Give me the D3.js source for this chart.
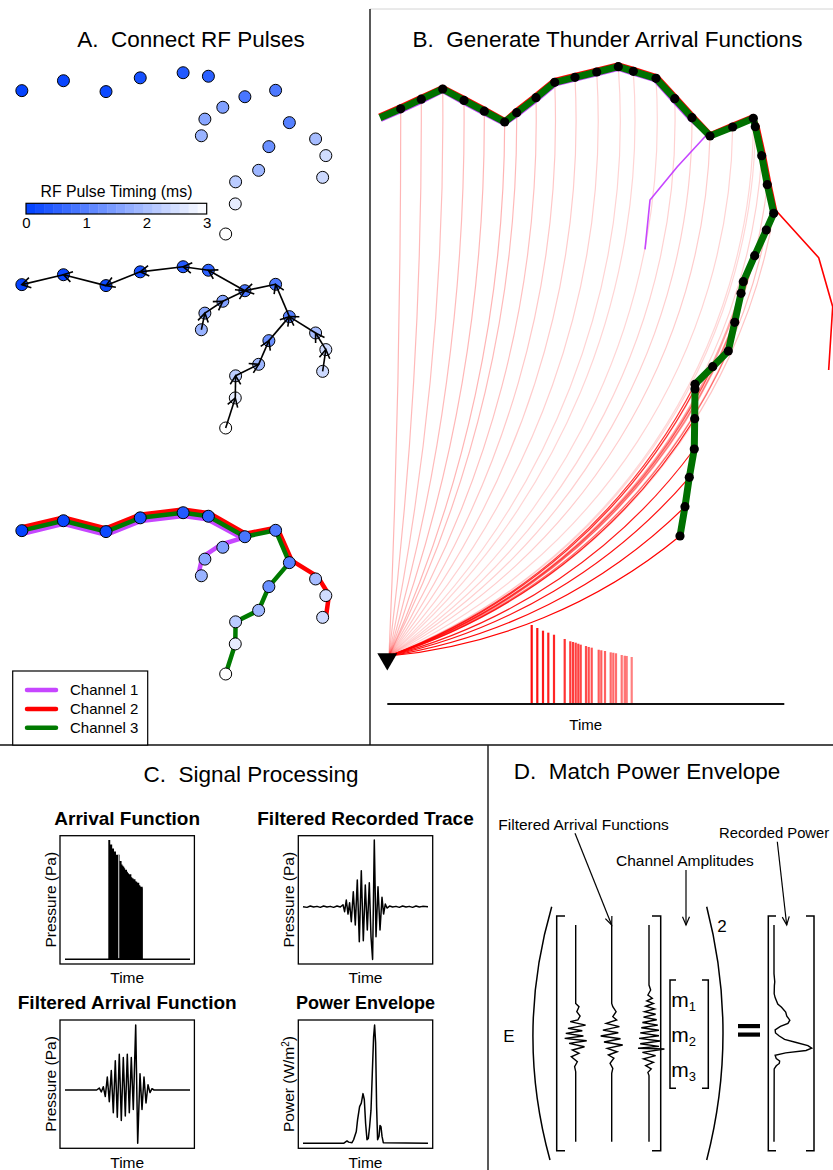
<!DOCTYPE html>
<html>
<head>
<meta charset="utf-8">
<script src="https://cdn.jsdelivr.net/npm/d3@7"></script>
<style>
  body { margin: 0; background: #fff; }
  svg { display: block; font-family: "Liberation Sans", Arial, Helvetica, sans-serif; }
  text { white-space: pre; }
</style>
</head>
<body>
<svg id="fig" width="833" height="1170"></svg>
<script>
// ---------------- Panel A: RF pulse sources (km east / km up) ----------------
const pulseEast = [0.37,1.67,3.00,4.07,5.41,6.20,7.34,8.30,6.65,6.09,5.98,8.73,8.09,7.77,7.05,7.04,6.74,9.55,9.87,9.77];
const pulseUp   = [4.98,5.29,4.95,5.38,5.54,5.43,4.79,4.99,4.46,4.09,3.57,3.98,3.23,2.49,2.13,1.44,0.50,3.47,2.95,2.27];
const pulseTime = [0.05,0.10,0.15,0.25,0.40,0.50,0.85,0.90,1.50,1.60,1.80,1.00,1.25,1.85,2.20,2.70,3.00,1.95,2.45,2.40];
const pulseParent = [-1,0,1,2,3,4,5,6,6,8,9,7,11,12,13,14,15,11,17,18];
const channel1 = [0,1,2,3,4,5,6,8,9,10];
const channel2 = [0,1,2,3,4,5,6,7,11,17,18,19];
const channel3 = [0,1,2,3,4,5,6,7,11,12,13,14,15,16];
const colorbarTicks = [0,1,2,3];
const channelNames = ["Channel 1","Channel 2","Channel 3"];

// ---------------- Panel B: channel geometry (km east of station / km up) ----------------
const chanEast = [-0.15,0.195,0.538,0.895,1.25,1.588,1.928,2.128,2.45,2.762,3.1,3.462,3.822,4.072,4.45,4.762,5.05,5.35,5.728,6.072,6.105,6.212,6.305,6.412,6.288,6.095,5.905,5.867,5.762,5.655,5.395,5.1,5.1,5.095,5.088,5.005,4.933,4.85];
const chanUp   = [8.97,9.12,9.28,9.45,9.26,9.08,8.9,9.055,9.305,9.562,9.645,9.733,9.822,9.745,9.628,9.288,8.972,8.667,8.817,8.962,8.822,8.338,7.855,7.378,7.1,6.672,6.238,6.045,5.562,5.083,4.822,4.528,4.45,3.955,3.45,2.978,2.488,2.0];
const purpleBranchEast = [4.805,4.35,4.267];
const purpleBranchUp   = [8.155,7.6,6.778];
const redBranchEast = [7.162,7.395,7.328];
const redBranchUp   = [6.638,5.822,4.767];
const purpleSplit = 17, redSplit = 23;
const rayCenterUp = 8.93;          // altitude of the ray-circle centre line (km)

// arrival spikes (relative time, relative amplitude)
const arrivalT   = [0,5.6,11.3,16.6,22.3,33,38.6,41.3,44,46.6,49,54.3,57,60,67,69.6,73.3,79,81.6,84.3,90,93,95,100];
const arrivalAmp = [1,.962,.928,.903,.877,.823,.794,.785,.776,.763,.751,.734,.722,.713,.687,.680,.671,.654,.649,.642,.620,.611,.608,.595];

// ---------------- Panel C: processed signals ----------------
const filtT = [0,31.7,34.3,36.3,38.3,40.3,42.3,44.3,46.3,48.3,50.3,52.3,54.3,56.3,58.3,60.3,62.3,64.3,66.3,68.3,70.7,72.7,75,77,79,81,83,85,87,89,125];
const filtP = [0,0,0.03,-0.03,0.05,-0.1,0.2,-0.18,0.3,-0.35,0.45,-0.42,0.55,-0.47,0.5,-0.4,0.55,-0.35,0.5,-0.3,1.0,-0.82,0.25,-0.3,0.2,-0.2,0.08,-0.04,0.02,0,0];

const recT = [0,4,7.3,10.6,14,17.3,20.6,24,27.3,30.6,34,37.3,40,41.6,43.3,45,46.6,48.3,50.3,52.3,54.3,56.3,58.3,60.3,62.3,64.3,66.3,68,69.6,71.3,73,75,77,79,80.6,82.3,84,86.6,89.6,93,96.3,99.6,103,106.3,109.6,113,116.3,119.6,125];
const recP = [0,-0.01,0.01,-0.005,0.005,-0.01,0.01,-0.005,0.005,-0.01,0.01,-0.005,0.03,-0.075,0.1,-0.11,0.06,-0.225,0.225,-0.275,0.4,-0.525,0.54,-0.51,0.325,-0.35,0.36,-0.45,-0.79,1.0,-0.45,0.3,-0.35,0.14,-0.11,0.04,-0.02,0.01,-0.005,0.005,-0.01,0.01,-0.005,0.005,-0.01,0.01,-0.005,0.005,0];

const powerT = [0,40.6,42.3,44,45.6,49,50.6,53.3,54.6,56.6,58.3,60,61.3,62.6,64,65.3,66.6,68,69.3,70.6,71.6,72.6,73.6,74.6,76,77,78,79,80.3,125];
const powerP = [0,0,0.01,0.02,0.01,0.005,0.03,0.1,0.2,0.31,0.34,0.42,0.37,0.17,0.03,0.04,0.14,0.28,0.59,0.9,1.0,0.85,0.31,0.03,0.06,0.15,0.14,0.06,0.005,0];

// ---------------- Panel D: per-channel filtered arrivals (vertical time) ----------------
const dTrace1T = [0,36.2,37.7,40,42,43.8,44.6,46.2,47.7,48.8,50,51.2,52.3,53.4,54.6,56.2,57.7,59.2,60.8,63.1,65.4,67.7,100];
const dTrace1P = [0,0,0.3,0.1,0.4,0.2,-0.5,0.9,-0.7,0.6,-0.9,0.7,-1.0,1.0,-0.6,0.8,-0.3,0.3,-0.4,0.15,-0.1,0,0];
const dTrace2T = [0,36.2,37.7,40,42.3,43.8,45.4,46.9,48.5,49.7,51.2,52.5,54,55.4,56.9,58.5,60,61.5,63.8,66.2,68.5,100];
const dTrace2P = [0,0,0.1,0.4,0.1,0.45,-0.5,0.7,-0.8,0.6,-1.0,0.8,-0.7,1.0,-0.4,0.5,-0.3,0.2,-0.15,0.1,0,0];
const dTrace3T = [0,27.7,30,32.3,33.8,35,36.2,37.5,38.7,40,41.2,42.5,43.7,45,46.2,47.4,48.6,49.8,51.1,52.3,53.5,54.8,56,56.9,57.2,58.8,60.3,61.8,63.4,64.9,66.4,68,69.5,100];
const dTrace3P = [0,0,0.15,-0.1,0.3,-0.2,0.4,-0.3,0.5,-0.4,0.6,-0.5,0.7,-0.6,0.8,-0.7,0.9,-0.8,0.9,-0.9,1.0,-0.8,0.9,-1.0,1.4,-0.6,0.6,-0.5,0.4,-0.3,0.2,-0.1,0,0];

// =====================================================================
const svg = d3.select("#fig");

function txt(g, x, y, s, size, opts = {}) {
  return g.append("text").attr("x", x).attr("y", y).text(s)
    .attr("font-size", size)
    .attr("text-anchor", opts.anchor || "middle")
    .attr("font-weight", opts.weight || "normal")
    .attr("fill", "#000");
}

// frame lines
svg.append("line").attr("x1", 370).attr("y1", 9).attr("x2", 833).attr("y2", 9).attr("stroke", "#d4d4d4").attr("stroke-width", 1);
svg.append("line").attr("x1", 370).attr("y1", 9).attr("x2", 370).attr("y2", 745).attr("stroke", "#222").attr("stroke-width", 1.5);
svg.append("line").attr("x1", 0).attr("y1", 745).attr("x2", 833).attr("y2", 745).attr("stroke", "#111").attr("stroke-width", 1.5);
svg.append("line").attr("x1", 488).attr("y1", 745).attr("x2", 488).attr("y2", 1170).attr("stroke", "#222").attr("stroke-width", 1.5);

// panel titles
txt(svg, 191, 47, "A.  Connect RF Pulses", 22.5);
txt(svg, 607.5, 47, "B.  Generate Thunder Arrival Functions", 22.5);
txt(svg, 251, 782, "C.  Signal Processing", 22.5);
txt(svg, 647, 779, "D.  Match Power Envelope", 22.5);

// offset a polyline sideways (positive = left of travel direction)
function offsetLine(pts, d) {
  return pts.map((p, i) => {
    const a = pts[Math.max(i - 1, 0)], b = pts[Math.min(i + 1, pts.length - 1)];
    const dx = b[0] - a[0], dy = b[1] - a[1];
    const L = Math.hypot(dx, dy) || 1;
    return [p[0] + d * dy / L, p[1] - d * dx / L];
  });
}
const lineGen = d3.line();

// ---------------- Panel A ----------------
const xA = d3.scaleLinear().domain([0, 10]).range([10, 330]);
const yA = d3.scaleLinear().domain([0, 5]).range([250, 90]);
const timeColor = d3.scaleLinear().domain([0, 3]).range(["#0040ff", "#ffffff"]).interpolate(d3.interpolateRgb);
const pulses = pulseEast.map((e, i) => ({ i, x: xA(e), y: yA(pulseUp[i]), t: pulseTime[i], parent: pulseParent[i] }));
const chColor = ["#c646ff", "#ff0000", "#007a00"];

function drawPulses(g) {
  g.selectAll("circle.pulse").data(pulses).join("circle").attr("class", "pulse")
    .attr("cx", d => d.x).attr("cy", d => d.y).attr("r", 6)
    .attr("fill", d => timeColor(d.t)).attr("stroke", "#000").attr("stroke-width", 1);
}

// A1: pulse locations coloured by time
const gA1 = svg.append("g");
drawPulses(gA1);
const cbX = d3.scaleLinear().domain([0, 3]).range([26, 206.7]);
const nSteps = 20;
const stepVals = d3.range(nSteps).map(k => 3 * k / nSteps);
gA1.selectAll("rect.cb").data(stepVals).join("rect").attr("class", "cb")
  .attr("x", d => cbX(d)).attr("y", 203.3).attr("width", cbX(3 / nSteps) - cbX(0) + 0.4).attr("height", 10.7)
  .attr("fill", d => timeColor(d + 1.5 / nSteps));
gA1.append("rect").attr("x", cbX(0)).attr("y", 203.3).attr("width", cbX(3) - cbX(0)).attr("height", 10.7)
  .attr("fill", "none").attr("stroke", "#000").attr("stroke-width", 1.2);
const cbAxis = gA1.append("g").attr("transform", "translate(0,214)")
  .call(d3.axisBottom(cbX).tickValues(colorbarTicks).tickFormat(d3.format("d")).tickSize(0).tickPadding(3));
cbAxis.select(".domain").remove();
cbAxis.selectAll("text").attr("font-size", 15).attr("font-family", "Liberation Sans, Arial, sans-serif").attr("fill", "#000");
txt(gA1, 116.5, 197, "RF Pulse Timing (ms)", 15.8);

// A2: connection tree with arrows pointing back toward earlier pulses
const gA2 = svg.append("g").attr("transform", "translate(0,194)");
drawPulses(gA2);
const edges = pulses.filter(d => d.parent >= 0).map(d => ({ s: d, t: pulses[d.parent] }));
gA2.selectAll("line.edge").data(edges).join("line").attr("class", "edge")
  .attr("x1", d => d.s.x).attr("y1", d => d.s.y).attr("x2", d => d.t.x).attr("y2", d => d.t.y)
  .attr("stroke", "#000").attr("stroke-width", 1.6);
gA2.selectAll("path.head").data(edges).join("path").attr("class", "head")
  .attr("d", d => {
    const ang = Math.atan2(d.s.y - d.t.y, d.s.x - d.t.x), L = 10, w = 0.55;
    const tx = d.t.x, ty = d.t.y;
    return `M${tx + L * Math.cos(ang + w)},${ty + L * Math.sin(ang + w)}L${tx},${ty}L${tx + L * Math.cos(ang - w)},${ty + L * Math.sin(ang - w)}`;
  })
  .attr("fill", "none").attr("stroke", "#000").attr("stroke-width", 1.6);

// A3: channels
const gA3 = svg.append("g").attr("transform", "translate(0,440)");
const chPts = ch => ch.map(k => [pulses[k].x, pulses[k].y]);
[[channel1, -3.2, 0], [channel2, 3.2, 1], [channel3, 0, 2]].forEach(([ch, off, ci]) => {
  gA3.append("path").attr("d", lineGen(offsetLine(chPts(ch), off)))
    .attr("fill", "none").attr("stroke", chColor[ci]).attr("stroke-width", 4.5)
    .attr("stroke-linejoin", "round").attr("stroke-linecap", "round");
});
drawPulses(gA3);

// legend
const gLeg = svg.append("g");
gLeg.append("rect").attr("x", 12.7).attr("y", 671).attr("width", 135).attr("height", 74)
  .attr("fill", "#fff").attr("stroke", "#000").attr("stroke-width", 1.2);
channelNames.forEach((nm, i) => {
  const y = 690 + i * 18.9;
  gLeg.append("line").attr("x1", 27).attr("x2", 56).attr("y1", y).attr("y2", y)
    .attr("stroke", chColor[i]).attr("stroke-width", 4.5).attr("stroke-linecap", "round");
  txt(gLeg, 70, y + 5.3, nm, 15, { anchor: "start" });
});

// ---------------- Panel B ----------------
const xB = d3.scaleLinear().domain([0, 1]).range([389, 449]);
const yB = d3.scaleLinear().domain([0, 1]).range([656, 596]);
const gB = svg.append("g");
const chanPts = chanEast.map((e, i) => [xB(e), yB(chanUp[i])]);
const station = [xB(0), yB(0)];
const yc = yB(rayCenterUp);

function rayPath(P) {
  const S = station, dx = P[0] - S[0], dy = P[1] - S[1];
  if (Math.abs(dx) < 1) return `M${S[0]},${S[1]}L${P[0]},${P[1]}`;
  const mx = (S[0] + P[0]) / 2, my = (S[1] + P[1]) / 2;
  const cx = mx - (yc - my) * dy / dx;
  const r = Math.hypot(S[0] - cx, S[1] - yc);
  const sweep = dx > 0 ? 0 : 1;
  return `M${S[0]},${S[1]}A${r},${r} 0 0 ${sweep} ${P[0]},${P[1]}`;
}
const rayOpacity = d3.scaleLinear().domain([314, 400, 470, 640]).range([1, 0.85, 0.4, 0.16]).clamp(true);
const dots = chanPts.slice(1);
gB.selectAll("path.ray").data(dots).join("path").attr("class", "ray")
  .attr("d", rayPath).attr("fill", "none").attr("stroke", "#ff0000").attr("stroke-width", 1.2)
  .attr("stroke-opacity", d => rayOpacity(Math.hypot(d[0] - station[0], d[1] - station[1])));

const redPts = chanPts.slice(0, redSplit + 1).concat(redBranchEast.map((e, i) => [xB(e), yB(redBranchUp[i])]));
const purplePts = chanPts.slice(0, purpleSplit + 1).concat(purpleBranchEast.map((e, i) => [xB(e), yB(purpleBranchUp[i])]));
const redOff = offsetLine(redPts, 3.6);
for (let k = redSplit + 1; k < redOff.length; k++) redOff[k] = redPts[k];
const purOff = offsetLine(purplePts, -3.6);
for (let k = purpleSplit + 1; k < purOff.length; k++) purOff[k] = purplePts[k];
gB.append("path").attr("d", lineGen(purOff)).attr("fill", "none").attr("stroke", "#c646ff").attr("stroke-width", 1.6).attr("stroke-linejoin", "round");
gB.append("path").attr("d", lineGen(redOff)).attr("fill", "none").attr("stroke", "#ff0000").attr("stroke-width", 1.6).attr("stroke-linejoin", "round");
gB.append("path").attr("d", lineGen(chanPts)).attr("fill", "none").attr("stroke", "#007000").attr("stroke-width", 7).attr("stroke-linejoin", "round");
gB.selectAll("circle.dot").data(dots).join("circle").attr("class", "dot")
  .attr("cx", d => d[0]).attr("cy", d => d[1]).attr("r", 4.6).attr("fill", "#000");

// station marker
gB.append("path").attr("d", d3.symbol(d3.symbolTriangle).size(173)())
  .attr("transform", `translate(${station[0] - 1.7},${station[1] + 3}) rotate(180)`).attr("fill", "#000");

// arrival time axis and spikes
const tB = d3.scaleLinear().domain([-144.4, 252.6]).range([387.3, 784.3]);
const aB = d3.scaleLinear().domain([0, 1]).range([704, 625]);
const spikeOpacity = d3.scaleLinear().domain([0, 100]).range([0.95, 0.5]);
gB.selectAll("rect.spike").data(arrivalT).join("rect").attr("class", "spike")
  .attr("x", d => tB(d) - 1.1).attr("width", 2.2)
  .attr("y", (d, i) => aB(arrivalAmp[i])).attr("height", (d, i) => aB(0) - aB(arrivalAmp[i]))
  .attr("fill", "#ff0000").attr("fill-opacity", d => spikeOpacity(d));
gB.append("line").attr("x1", tB.range()[0]).attr("x2", tB.range()[1]).attr("y1", 704).attr("y2", 704)
  .attr("stroke", "#111").attr("stroke-width", 2);
txt(gB, 585.7, 730, "Time", 15);

// ---------------- Panel C ----------------
const gC = svg.append("g");
function panelBox(x0, y0, title, tsize, ylab, sup) {
  gC.append("rect").attr("x", x0).attr("y", y0).attr("width", 134.4).attr("height", 128.3)
    .attr("fill", "none").attr("stroke", "#000").attr("stroke-width", 1.3);
  txt(gC, x0 + 67.2, y0 - 11, title, tsize, { weight: "bold" });
  txt(gC, x0 + 67.2, y0 + 147.5, "Time", 15.5);
  const t = gC.append("text").attr("transform", `translate(${x0 - 4},${y0 + 64}) rotate(-90)`)
    .attr("text-anchor", "middle").attr("font-size", 15.5).text(ylab);
  if (sup) {
    t.append("tspan").attr("baseline-shift", "super").attr("font-size", 10).text("2");
    t.append("tspan").text(")");
  }
}
panelBox(60, 835.7, "Arrival Function", 19, "Pressure (Pa)");
panelBox(60, 1020, "Filtered Arrival Function", 19, "Pressure (Pa)");
panelBox(298.3, 835.7, "Filtered Recorded Trace", 19, "Pressure (Pa)");
panelBox(298.3, 1020, "Power Envelope", 18, "Power (W/m", true);

// C1 arrival function: spikes merged into one stepped block
const tC1 = d3.scaleLinear().domain([-125.9, 237.5]).range([65, 190]);
const aC1 = d3.scaleLinear().domain([0, 1]).range([959.3, 840]);
const arrPts = arrivalT.map((t, i) => [t, arrivalAmp[i]]);
arrPts.push([arrivalT[arrivalT.length - 1] + 0.5, arrivalAmp[arrivalAmp.length - 1]]);
gC.append("path")
  .attr("d", d3.area().curve(d3.curveStepAfter).x(d => tC1(d[0])).y0(aC1(0)).y1(d => aC1(d[1]))(arrPts))
  .attr("fill", "#000");
// the sparse stretch between the 5th and 6th arrival shows as a thin light gap
gC.append("line").attr("x1", tC1(arrivalT[5]) - 0.9).attr("x2", tC1(arrivalT[5]) - 0.9)
  .attr("y1", aC1(arrivalAmp[4])).attr("y2", aC1(0) - 1)
  .attr("stroke", "#e6e6e6").attr("stroke-width", 1);
gC.append("line").attr("x1", 65).attr("x2", 190).attr("y1", 959.3).attr("y2", 959.3).attr("stroke", "#000").attr("stroke-width", 1.5);

// C2 filtered arrival function
const tL = d3.scaleLinear().domain([0, 125]).range([65, 190]);
const tR = d3.scaleLinear().domain([0, 125]).range([303, 428]);
const pC2 = d3.scaleLinear().domain([-1, 1]).range([1155, 1025]);
gC.append("path").attr("d", d3.line().x(d => tL(d[0])).y(d => pC2(d[1]))(filtT.map((t, i) => [t, filtP[i]])))
  .attr("fill", "none").attr("stroke", "#000").attr("stroke-width", 1.5).attr("stroke-linejoin", "round");

// C3 filtered recorded trace
const pC3 = d3.scaleLinear().domain([-1, 1]).range([973.4, 840]);
gC.append("path").attr("d", d3.line().x(d => tR(d[0])).y(d => pC3(d[1]))(recT.map((t, i) => [t, recP[i]])))
  .attr("fill", "none").attr("stroke", "#000").attr("stroke-width", 1.5).attr("stroke-linejoin", "round");

// C4 power envelope
const pC4 = d3.scaleLinear().domain([0, 1]).range([1143.3, 1025]);
gC.append("path").attr("d", d3.line().x(d => tR(d[0])).y(d => pC4(d[1]))(powerT.map((t, i) => [t, powerP[i]])))
  .attr("fill", "none").attr("stroke", "#000").attr("stroke-width", 1.5).attr("stroke-linejoin", "round");

// ---------------- Panel D ----------------
const gD = svg.append("g");
function dpath(d, w) {
  return gD.append("path").attr("d", d).attr("fill", "none").attr("stroke", "#000").attr("stroke-width", w || 1.5);
}
function arrow(x1, y1, x2, y2) {
  dpath(`M${x1},${y1}L${x2},${y2}`, 1.2);
  const ang = Math.atan2(y1 - y2, x1 - x2), L = 9, w = 0.4;
  dpath(`M${x2 + L * Math.cos(ang + w)},${y2 + L * Math.sin(ang + w)}L${x2},${y2}L${x2 + L * Math.cos(ang - w)},${y2 + L * Math.sin(ang - w)}`, 1.2);
}
txt(gD, 498.3, 830, "Filtered Arrival Functions", 15.5, { anchor: "start" });
txt(gD, 616, 865.7, "Channel Amplitudes", 15.5, { anchor: "start" });
txt(gD, 719, 838.3, "Recorded Power", 14.8, { anchor: "start" });
arrow(575, 833.3, 611.7, 925);
arrow(686, 870, 686, 925);
arrow(777.3, 841.7, 786.7, 925);

txt(gD, 509, 1041.7, "E", 17);
txt(gD, 722, 931.7, "2", 17);
dpath("M551.7,906.7 Q515,1033 550,1160");
dpath("M706.7,906.7 Q739.3,1033 706.7,1160");
dpath("M565,916 H556.7 V1150.7 H565");
dpath("M652,916 H660.7 V1150.7 H652");
dpath("M676,980 H670 V1088.3 H676");
dpath("M702,980 H708.3 V1088.3 H702");
dpath("M776,916 H768.3 V1150.7 H776");
dpath("M806,916 H814 V1150.7 H806");
["1", "2", "3"].forEach((s, i) => {
  const t = gD.append("text").attr("x", 671.2).attr("y", 1006.7 + i * 35.3).attr("font-size", 21).text("m");
  t.append("tspan").attr("font-size", 13).attr("dy", 4).text(s);
});
gD.append("rect").attr("x", 738).attr("y", 1024).attr("width", 22).attr("height", 4.2).attr("fill", "#000");
gD.append("rect").attr("x", 738).attr("y", 1032.5).attr("width", 22).attr("height", 4.2).attr("fill", "#000");

const tD = d3.scaleLinear().domain([0, 100]).range([925, 1141.7]);
[[575.7, dTrace1T, dTrace1P], [611.7, dTrace2T, dTrace2P], [649, dTrace3T, dTrace3P]].forEach(([x0, T, P]) => {
  const px = d3.scaleLinear().domain([-1, 1]).range([x0 - 11, x0 + 11]);
  dpath(d3.line().x(d => px(d[1])).y(d => tD(d[0]))(T.map((t, i) => [t, P[i]])), 1.4);
});
// recorded power, same envelope turned on its side
const tDP = d3.scaleLinear().domain([20.35, 110.6]).range([925, 1141.7]);
const pDP = d3.scaleLinear().domain([0, 1]).range([774, 811.7]);
const dPow = powerT.map((t, i) => [Math.max(20.35, Math.min(110.6, t)), powerP[i]]);
dpath(d3.line().x(d => pDP(d[1])).y(d => tDP(d[0]))(dPow), 1.4);
</script>
</body>
</html>
